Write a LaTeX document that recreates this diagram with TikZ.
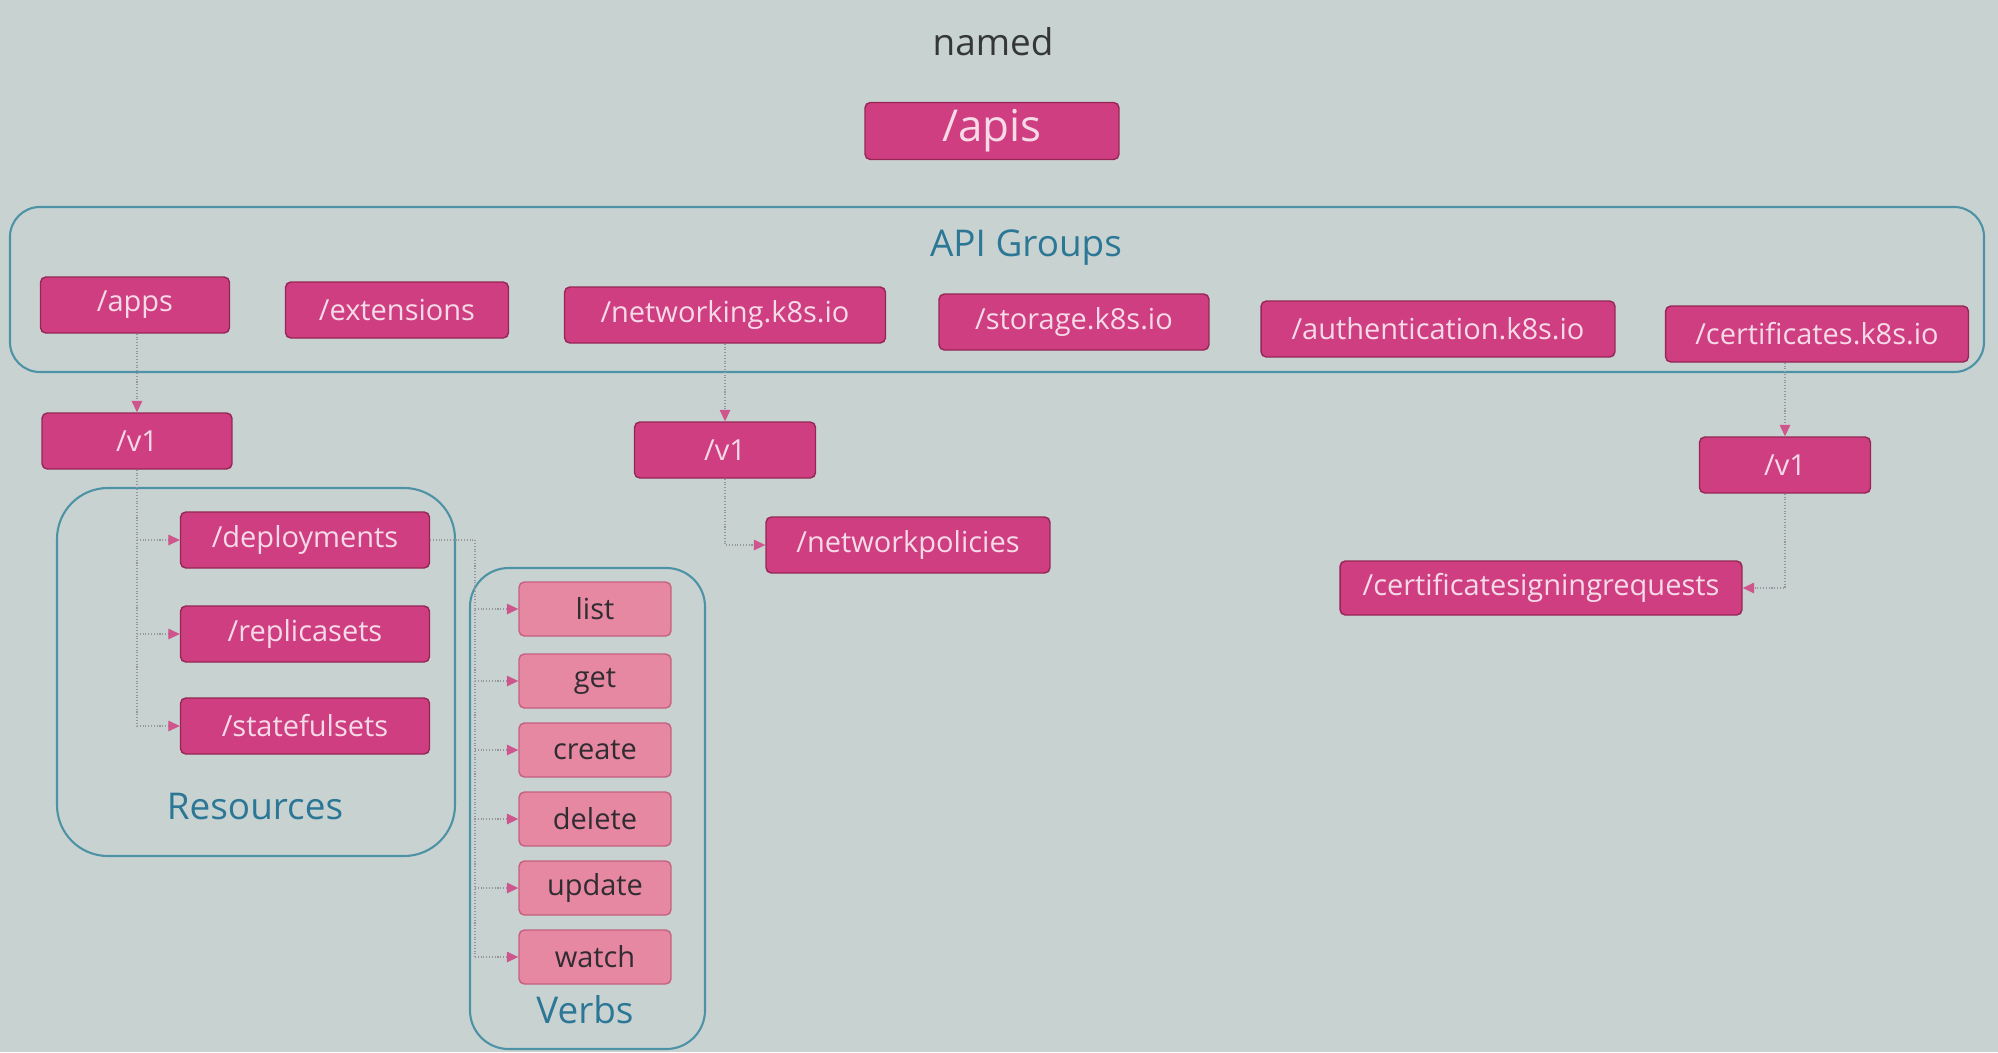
\documentclass[tikz,border=0pt]{standalone}
\usepackage{fontspec}
\setmainfont{Open Sans}
\usetikzlibrary{arrows.meta, calc}

\definecolor{slidebg}{RGB}{200,211,209}
\definecolor{boxpink}{RGB}{206,62,128}
\definecolor{boxedge}{RGB}{150,38,86}
\definecolor{boxtext}{RGB}{246,218,232}
\definecolor{verbpink}{RGB}{230,136,162}
\definecolor{verbedge}{RGB}{196,96,128}
\definecolor{verbtext}{RGB}{48,44,50}
\definecolor{frameteal}{RGB}{78,146,166}
\definecolor{titleteal}{RGB}{44,118,150}
\definecolor{namedgray}{RGB}{52,54,56}
\definecolor{linkgray}{RGB}{150,150,158}
\definecolor{tippink}{RGB}{206,86,140}

\begin{document}
\begin{tikzpicture}[x=0.02cm, y=-0.02cm,
    >={Triangle[length=6.5pt, width=6pt, color=tippink]},
    grp/.style={draw=boxedge, fill=boxpink, text=boxtext, rounded corners=3pt,
      line width=0.8pt, minimum height=1.12cm, font=\fontsize{16.5}{20}\selectfont},
    verb/.style={grp, fill=verbpink, draw=verbedge, text=verbtext},
    panel/.style={draw=frameteal, line width=1.2pt},
    grouptitle/.style={text=titleteal, font=\fontsize{21}{25}\selectfont},
    wire/.style={draw=linkgray, densely dotted, line width=0.6pt}]
  % === 背景 ===
  \fill[slidebg] (0,0) rectangle (1998,1052);

  % === 分组框 ===
  \draw[panel, rounded corners=17pt] (10,207) rectangle (1984,372);
  \draw[panel, rounded corners=29pt] (57,488) rectangle (455,856);
  \draw[panel, rounded corners=22pt] (470,568) rectangle (705,1049);

  % === 顶部 ===
  \node[text=namedgray, font=\fontsize{21}{25}\selectfont] (named) at (993,42) {named};
  \node[grp, minimum width=5.08cm, minimum height=1.14cm, font=\fontsize{25}{30}\selectfont] (apis) at (992,131) {/apis};

  % === API Groups ===
  \node[grouptitle] (groups) at (1026,248) {API Groups};
  \node[grp, minimum width=3.78cm] (apps) at (135,305) {/apps};
  \node[grp, minimum width=4.46cm] (ext) at (397,310) {/extensions};
  \node[grp, minimum width=6.42cm] (net) at (725,315) {/networking.k8s.io};
  \node[grp, minimum width=5.40cm] (stor) at (1074,322) {/storage.k8s.io};
  \node[grp, minimum width=7.08cm] (auth) at (1438,329) {/authentication.k8s.io};
  \node[grp, minimum width=6.06cm] (cert) at (1817,334) {/certificates.k8s.io};

  % === 版本 ===
  \node[grp, minimum width=3.80cm] (appsv) at (137,441) {/v1};
  \node[grp, minimum width=3.62cm] (netv) at (725,450) {/v1};
  \node[grp, minimum width=3.42cm] (certv) at (1785,465) {/v1};

  % === Resources ===
  \node[grp, minimum width=4.98cm] (deploy) at (305,540) {/deployments};
  \node[grp, minimum width=4.98cm] (rs) at (305,634) {/replicasets};
  \node[grp, minimum width=4.98cm] (sts) at (305,726) {/statefulsets};
  \node[grouptitle] (res) at (255,806) {Resources};

  \node[grp, minimum width=5.68cm] (netpol) at (908,545) {/networkpolicies};
  \node[grp, minimum width=8.04cm, minimum height=1.08cm] (csr) at (1541,588) {/certificatesigningrequests};

  % === Verbs ===
  \foreach \vb/\y in {list/609, get/681, create/750, delete/819, update/888, watch/957}
    \node[verb, minimum width=3.04cm, minimum height=1.08cm] (\vb) at (595,\y) {\vb};
  \node[grouptitle] (verbs) at (585,1010) {Verbs};

  % === 连线 ===
  \draw[wire, ->] (appsv.north |- apps.south) -- (appsv.north);
  \draw[wire] (appsv.south) -- (appsv.south |- sts.west);
  \foreach \r in {deploy, rs, sts}
    \draw[wire, ->] (appsv.south |- \r.west) -- (\r.west);

  \coordinate (vbus) at (475,540);
  \draw[wire] (deploy.east) -- (vbus) -- (vbus |- watch.west);
  \foreach \vb in {list, get, create, delete, update, watch}
    \draw[wire, ->] (vbus |- \vb.west) -- (\vb.west);

  \draw[wire, ->] (net.south) -- (netv.north);
  \draw[wire, ->] (netv.south) |- (netpol.west);
  \draw[wire, ->] (certv.north |- cert.south) -- (certv.north);
  \draw[wire, ->] (certv.south) |- (csr.east);
\end{tikzpicture}
\end{document}
